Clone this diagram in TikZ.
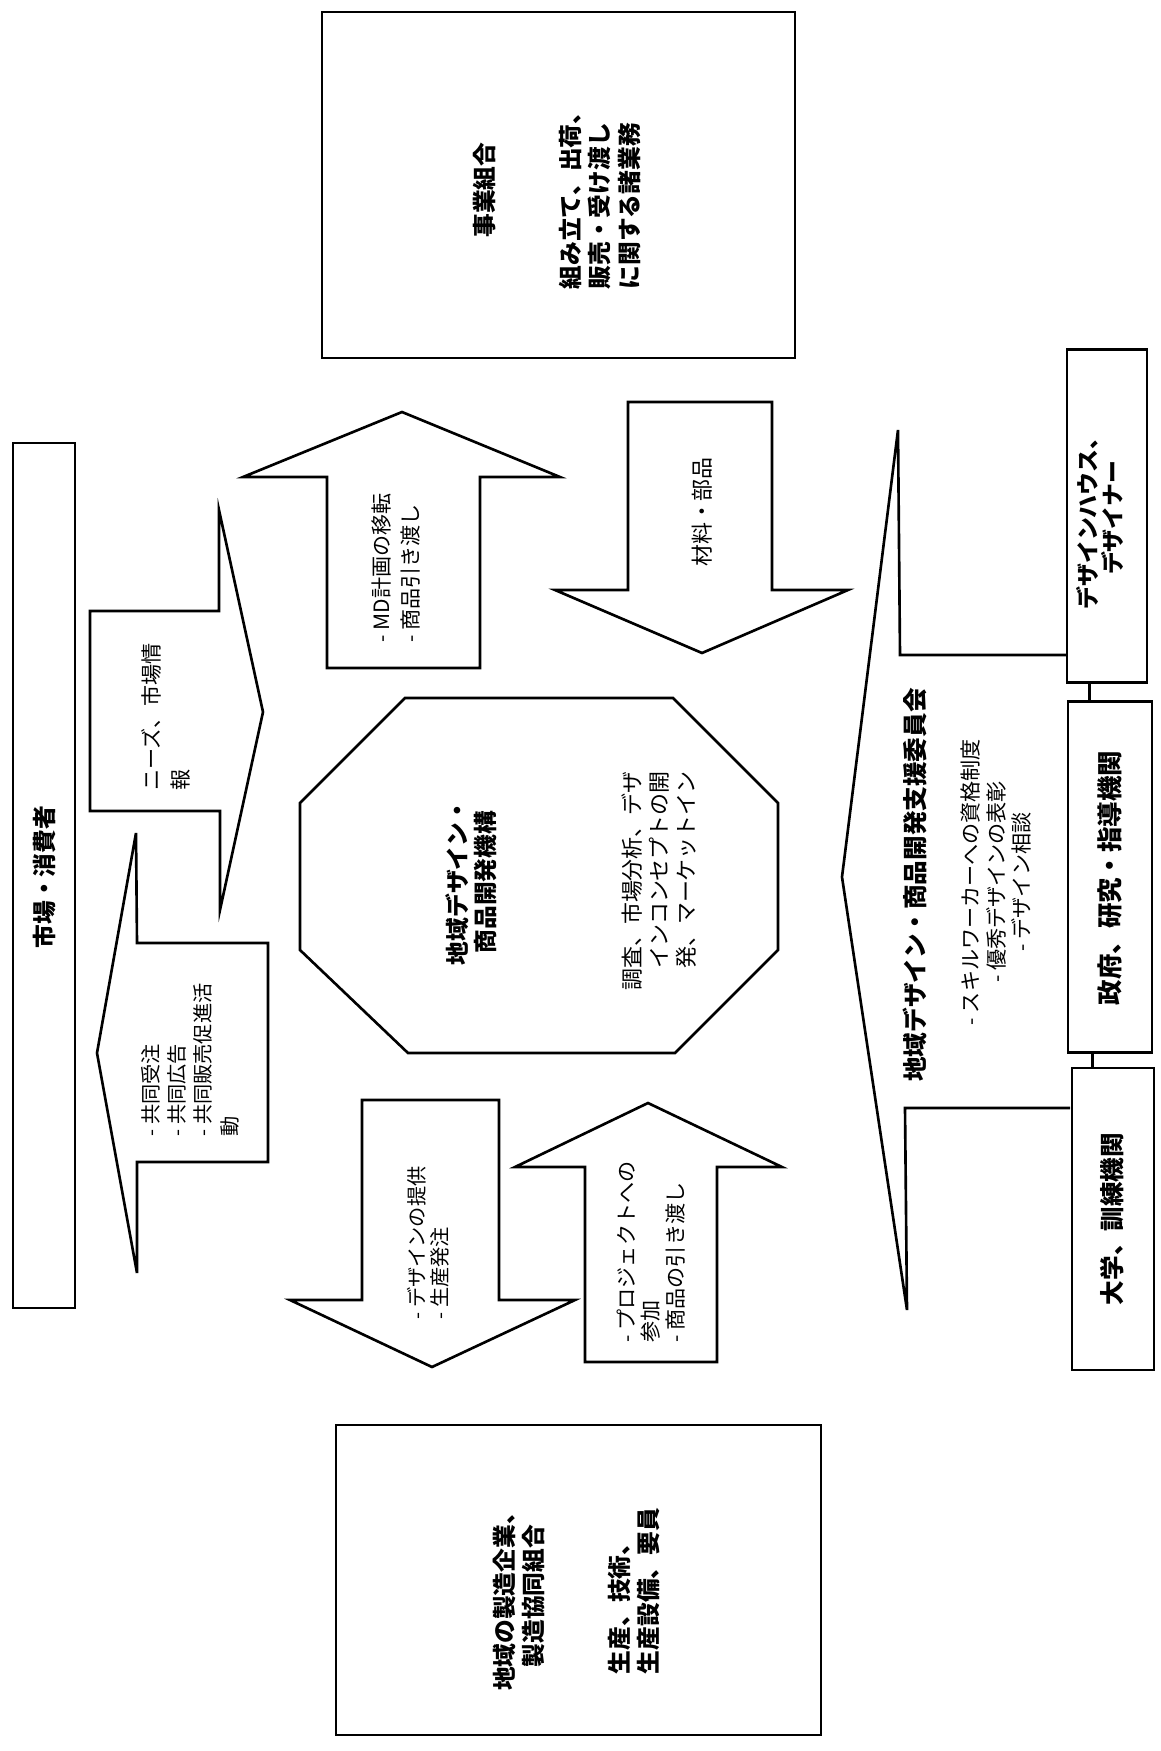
\documentclass[tikz,border=0pt]{standalone}
\usepackage{fontspec}
\newfontfamily\jpfont{Noto Sans CJK JP}
\usetikzlibrary{calc}
\tikzset{
  bigtxt/.style={rotate=90, inner sep=0pt, font=\jpfont\bfseries\fontsize{13.5}{16}\selectfont},
  midtxt/.style={rotate=90, inner sep=0pt, font=\jpfont\fontsize{12.5}{15.5}\selectfont},
  smalltxt/.style={rotate=90, inner sep=0pt, font=\jpfont\fontsize{11.5}{15}\selectfont},
  outline/.style={line width=1.5pt, line join=miter},
  sidebox/.style={draw, line width=1.5pt, inner sep=0pt},
}

\begin{document}
\begin{tikzpicture}[x=0.02cm, y=-0.02cm]
  \useasboundingbox (0,0) rectangle (1160,1751);

%market:
  \draw[outline] (13,443) rectangle (75,1308);
  \node[bigtxt] (market) at (44,877) {市場・消費者};

%arrows to and from the market:
  \draw[outline] (90,611) -- (219,611) -- (219,510) -- (263,712) -- (220,910) -- (220,811) -- (90,811) -- cycle;
  \node[smalltxt, align=left, font=\jpfont\fontsize{12}{16.5}\selectfont] (needs) at (166,717) {ニーズ、市場情\\報};
  \draw[outline] (268,943) -- (137,943) -- (136,833) -- (97,1053) -- (137,1273) -- (137,1162) -- (268,1162) -- cycle;
  \node[smalltxt, align=left] (sales) at (190,1060) {- 共同受注\\- 共同広告\\- 共同販売促進活\\動};

%union:
  \draw[outline] (322,12) rectangle (795,358);
  \node[bigtxt] (union) at (485,190) {事業組合};
  \node[bigtxt, align=left, font=\jpfont\bfseries\fontsize{13.5}{17}\selectfont] (uniontasks) at (600,195) {組み立て、出荷、\\販売・受け渡し\\に関する諸業務};
  \draw[outline] (327,668) -- (327,477) -- (243,477) -- (402,412) -- (560,477) -- (480,477) -- (480,668) -- cycle;
  \node[midtxt, align=left, font=\jpfont\fontsize{12}{16}\selectfont] (mdplan) at (396,568) {- MD計画の移転\\- 商品引き渡し};
  \draw[outline] (628,402) -- (772,402) -- (772,590) -- (848,590) -- (702,653) -- (555,590) -- (628,590) -- cycle;
  \node[midtxt] (parts) at (702,512) {材料・部品};

%center:
  \draw[outline] (405,698) -- (673,698) -- (778,803) -- (778,950) -- (675,1053) -- (408,1053) -- (300,950) -- (300,803) -- cycle;
  \node[bigtxt, align=center] (center) at (471,882) {地域デザイン・\\商品開発機構};
  \node[midtxt, align=right] (centertasks) at (659,881) {調査、市場分析、デザ\\インコンセプトの開\\発、マーケットイン};

%manufacturers:
  \draw[outline] (362,1100) -- (499,1100) -- (499,1300) -- (575,1300) -- (432,1367) -- (290,1300) -- (362,1300) -- cycle;
  \node[smalltxt, align=left, font=\jpfont\fontsize{11.5}{13}\selectfont] (order) at (428,1243) {- デザインの提供\\- 生産発注};
  \draw[outline] (585,1362) -- (585,1167) -- (515,1167) -- (648,1103) -- (782,1167) -- (717,1167) -- (717,1362) -- cycle;
  \node[midtxt, align=left, font=\jpfont\fontsize{12}{13.8}\selectfont] (project) at (651,1252) {- プロジェクトへの\\参加\\- 商品の引き渡し};
  \draw[outline] (336,1425) rectangle (821,1735);
  \node[bigtxt, align=center] (makers) at (519,1596) {地域の製造企業、\\製造協同組合};
  \node[bigtxt, align=left] (makerres) at (634,1591) {生産、技術、\\生産設備、要員};

%committee:
  \draw[outline] (1067,655) -- (900,655) -- (898,430) -- (842,877) -- (907,1310) -- (905,1108) -- (1070,1108);
  \node[bigtxt, font=\jpfont\bfseries\fontsize{14}{16}\selectfont] (committee) at (915,885) {地域デザイン・商品開発支援委員会};
  \node[midtxt, align=center, font=\jpfont\fontsize{12}{14.7}\selectfont] (support) at (996,882) {- スキルワーカーへの資格制度\\- 優秀デザインの表彰\\- デザイン相談};

%partners:
  \node[sidebox, minimum width=1.6cm, minimum height=6.66cm] (dhouse) at (1107,516) {};
  \node[sidebox, minimum width=1.68cm, minimum height=7.02cm] (gov) at (1110,877) {};
  \node[sidebox, minimum width=1.64cm, minimum height=6.04cm] (univ) at (1113,1219) {};
  \node[bigtxt, align=center, font=\jpfont\bfseries\fontsize{13}{14}\selectfont] (dhousetxt) at (1100,518) {デザインハウス、\\デザイナー};
  \node[bigtxt, font=\jpfont\bfseries\fontsize{14.5}{16}\selectfont] (govtxt) at (1110,878) {政府、研究・指導機関};
  \node[bigtxt, font=\jpfont\bfseries\fontsize{14}{16}\selectfont] (univtxt) at (1112,1219) {大学、訓練機関};
  \draw[outline] ($(dhouse.south west)!.29!(dhouse.south east)$) coordinate (c1) -- (c1 |- gov.north);
  \draw[outline] ($(gov.south west)!.3!(gov.south east)$) coordinate (c2) -- (c2 |- univ.north);

\end{tikzpicture}
\end{document}
